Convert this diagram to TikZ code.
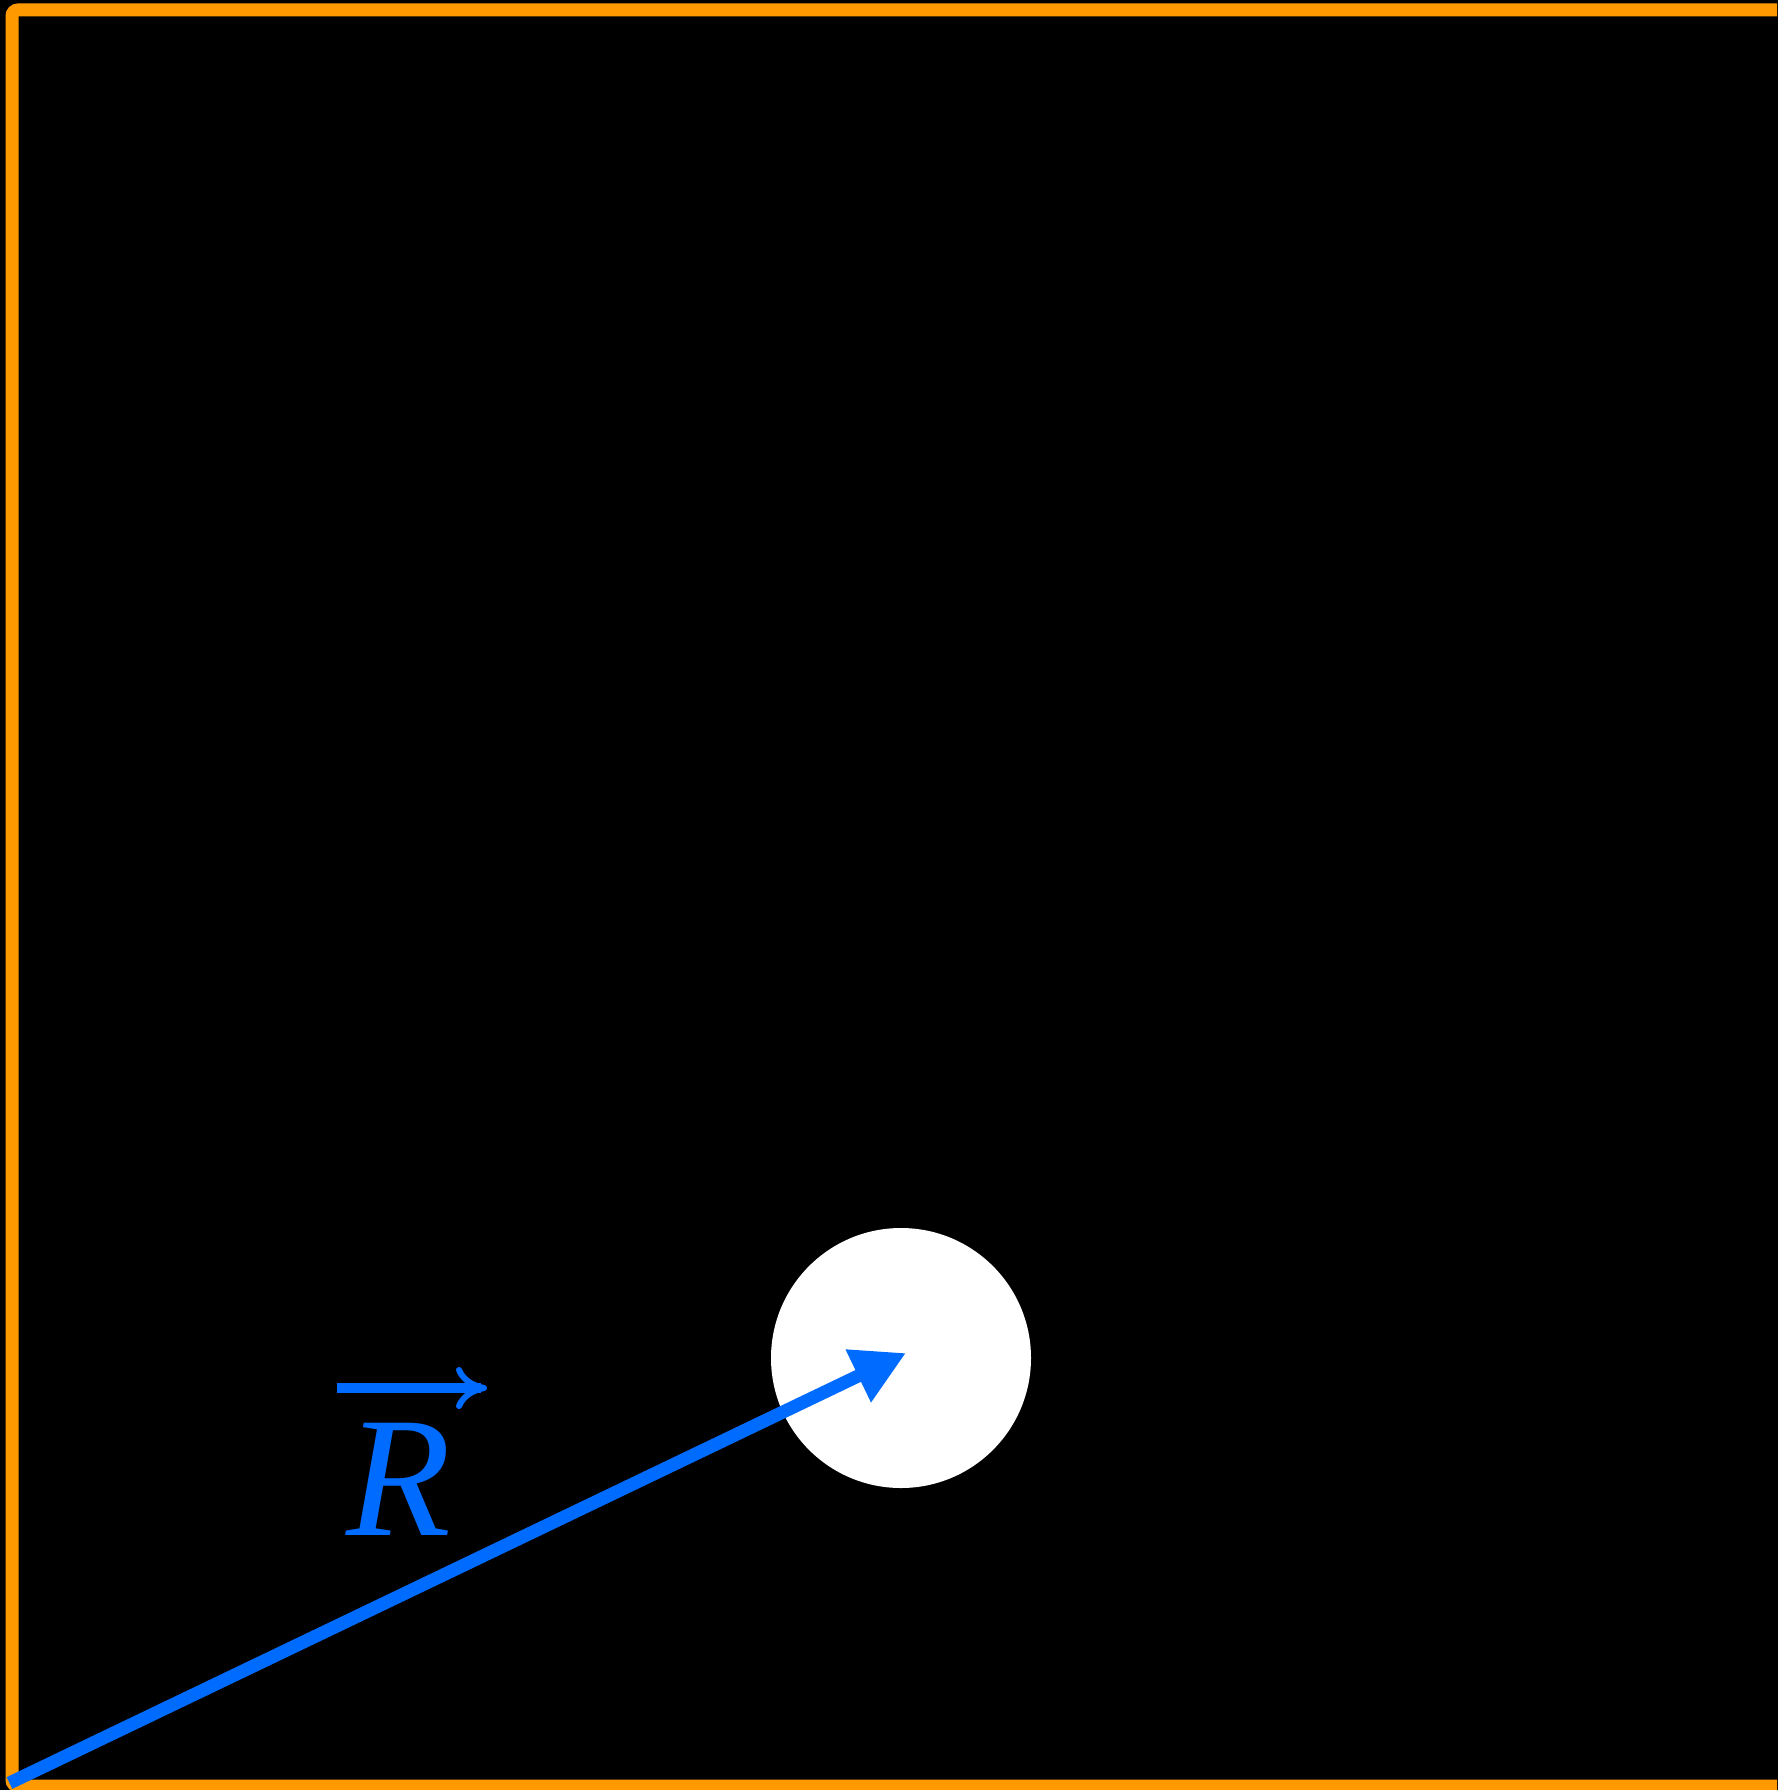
\documentclass[tikz,border=0pt]{standalone}
\usepackage{fontspec}
\setmainfont{Liberation Serif}
\usetikzlibrary{arrows.meta}
\definecolor{frameorange}{RGB}{255,153,0}
\definecolor{vecblue}{RGB}{0,108,255}
\tikzset{
  framestyle/.style={draw=frameorange, line width=13pt, rounded corners=6pt},
  vecarrow/.style={draw=vecblue, line width=13pt, -{Triangle[length=53pt,width=55pt]}},
  vlabel/.style={text=vecblue, inner sep=0pt, font=\fontsize{171.5}{180}\selectfont\itshape},
  overarrow/.style={draw=vecblue, line width=9.5pt, -{Computer Modern Rightarrow[length=31pt,width=42pt,line width=6pt]}},
}
\begin{document}
\begin{tikzpicture}[x=1pt,y=-1pt]
\useasboundingbox (0,0) rectangle (1777,1790);
\fill[black] (-5,-5) rectangle (1790,1800);
\clip (0,0) rectangle (1777,1790);
\draw[framestyle] (1900,10) -- (12,10) -- (12,1786) -- (1900,1786);
\node[circle, fill=white, minimum size=260pt, inner sep=0pt] (ball) at (901,1358) {};
\coordinate (origin) at (9.5,1783);
\coordinate (tip) at (906,1353);
\draw[vecarrow] (origin) -- (tip);
\node[vlabel, anchor=base west] (R) at (346.5,1535) {R};
\coordinate (al) at (337,1388);
\coordinate (ar) at (487,1388);
\draw[overarrow] (al) -- (ar);
\end{tikzpicture}
\end{document}
